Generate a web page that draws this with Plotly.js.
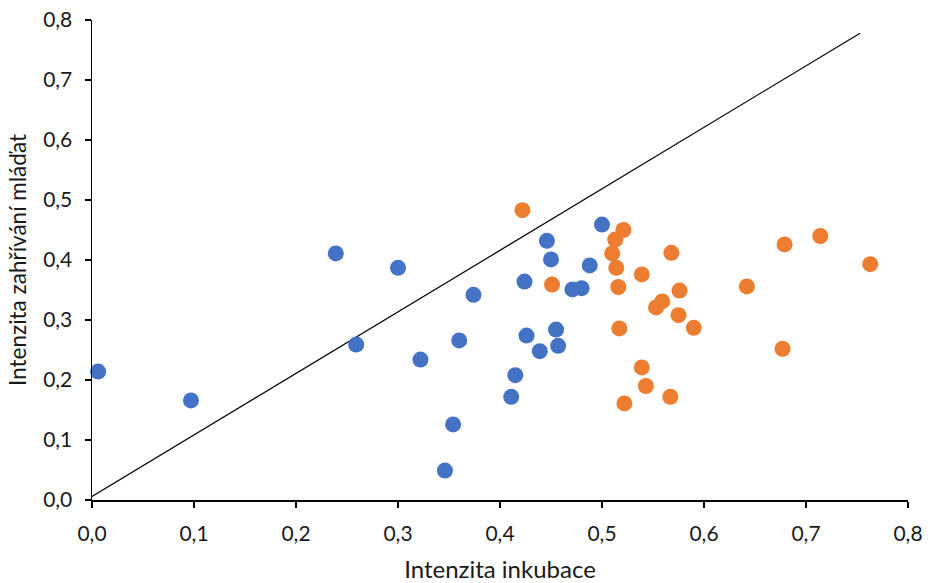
<!DOCTYPE html>
<html><head><meta charset="utf-8">
<script src="https://cdn.plot.ly/plotly-3.0.1.min.js"></script>
<style>html,body{margin:0;padding:0;background:#fff;}#chart{width:928px;height:583px;}</style>
</head><body><div id="chart"></div>
<script>
const blueX = [0.006,0.097,0.239,0.259,0.300,0.322,0.360,0.374,0.354,0.346,0.411,0.415,0.424,0.426,0.439,0.446,0.450,0.455,0.457,0.471,0.480,0.488,0.500];
const blueY = [0.214,0.166,0.411,0.259,0.387,0.234,0.266,0.342,0.126,0.049,0.172,0.208,0.364,0.274,0.248,0.432,0.401,0.284,0.257,0.351,0.353,0.391,0.459];
const orangeX = [0.422,0.451,0.521,0.513,0.510,0.514,0.516,0.517,0.539,0.568,0.576,0.559,0.553,0.575,0.590,0.539,0.543,0.567,0.522,0.679,0.714,0.763,0.642,0.677];
const orangeY = [0.483,0.359,0.450,0.434,0.411,0.387,0.355,0.286,0.376,0.412,0.349,0.331,0.321,0.308,0.287,0.221,0.190,0.172,0.161,0.426,0.440,0.393,0.356,0.252];
const lineX = [0, 0.753];
const lineY = [0.006, 0.778];
const tickVals = [0,0.1,0.2,0.3,0.4,0.5,0.6,0.7,0.8];
const tickText = ['0,0','0,1','0,2','0,3','0,4','0,5','0,6','0,7','0,8'];

const font = 'Lato, "Open Sans", sans-serif';
const data = [
  {x: lineX, y: lineY, mode: 'lines', line: {color: '#000', width: 1.2}, hoverinfo: 'skip', cliponaxis: false},
  {x: blueX, y: blueY, mode: 'markers', marker: {color: '#4472C4', size: 16}, cliponaxis: false},
  {x: orangeX, y: orangeY, mode: 'markers', marker: {color: '#ED7D31', size: 16}, cliponaxis: false}
];
const axisCommon = {
  range: [0, 0.8], tickvals: tickVals, ticktext: tickText,
  showgrid: false, zeroline: false, showline: true, linecolor: '#000', linewidth: 1.5,
  ticks: 'outside', ticklen: 6, tickcolor: '#000', tickwidth: 1.5,
  tickfont: {family: font, size: 21, color: '#1a1a1a'}
};
const layout = {
  width: 928, height: 583,
  margin: {l: 92, r: 20, t: 20, b: 83},
  paper_bgcolor: '#fff', plot_bgcolor: '#fff',
  showlegend: false,
  xaxis: Object.assign({}, axisCommon, {ticklabelstandoff: 8, title: {text: 'Intenzita inkubace', font: {family: font, size: 24, color: '#1a1a1a'}, standoff: 22}}),
  yaxis: Object.assign({}, axisCommon, {ticklabelstandoff: 8, title: {text: 'Intenzita zahřívání mláďat', font: {family: font, size: 22.5, color: '#1a1a1a'}, standoff: 10}})
};
Plotly.newPlot('chart', data, layout, {displayModeBar: false, staticPlot: true});
</script></body></html>
